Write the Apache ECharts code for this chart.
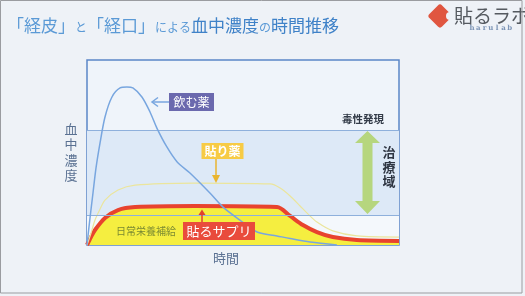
<!DOCTYPE html>
<html>
<head>
<meta charset="utf-8">
<script src="https://cdn.jsdelivr.net/npm/echarts@6/dist/echarts.min.js"></script>
<style>
  html, body { margin: 0; padding: 0; background: #f3f5f8; }
  #chart { width: 525px; height: 296px; }
</style>
</head>
<body>
<div id="chart"></div>
<script>
// 時間 (0-100) と 血中濃度 (0-100) の相対値
const oralDrug = [
    [0, 0], [0.96, 14.6], [1.92, 28.1], [2.88, 41.6], [4.17, 55.1], [5.77, 69.2],
    [8.0, 80.0], [10.6, 84.9], [12.8, 85.4], [14.7, 84.9], [17.6, 80.0], [20.2, 71.9],
    [22.4, 63.2], [25.6, 53.0], [28.9, 44.9], [33.0, 38.9], [39.4, 28.1], [43.6, 20.5],
    [49.0, 13.5], [54.5, 7.0], [60.9, 4.9], [65.1, 3.5], [71.5, 1.6], [80.1, 0]
];
const patchDrug = [
    [0, 0], [1.3, 6.5], [2.56, 13.5], [4.2, 19.5], [5.77, 24.3], [9.94, 29.7],
    [15.4, 32.4], [34.6, 33.5], [58.7, 33.0], [61.9, 30.8], [65.1, 26.5], [68.3, 21.1],
    [70.8, 16.8], [73.7, 12.4], [78.8, 7.6], [86.5, 4.9], [100, 4.3]
];
const patchSupplement = [
    [0, 0], [1.28, 4.3], [2.56, 8.1], [5.77, 14.6], [9.94, 18.9], [15.4, 20.5],
    [34.6, 21.1], [60.9, 20.5], [65.1, 15.7], [69.2, 10.8], [73.7, 7.0], [78.8, 4.3],
    [86.5, 2.7], [100, 2.2]
];
const toxicLevel = 62;
const effectiveLevel = 16;

const JP = '"Noto Sans CJK JP", "Noto Sans", sans-serif';
const chart = echarts.init(document.getElementById('chart'));

const logoLetters = 'harulab'.split('').map((ch, i) => ({
    type: 'text', x: 472 + i * 6.3, y: 28, z: 60,
    style: { text: ch, fill: '#7d95b6', font: 'bold 7px "DejaVu Serif", serif', align: 'center', verticalAlign: 'middle' }
}));

const lineCommon = { smooth: 0.3, symbol: 'none', silent: true };

chart.setOption({
    animation: false,
    backgroundColor: '#eef2f7',
    title: {
        left: 2, top: 12,
        text: '{a|「経皮」}{b|と}{a|「経口」}{b|による}{c|血中濃度}{b|の}{c|時間推移}',
        textStyle: {
            fontWeight: 'normal',
            rich: {
                a: { fontSize: 17, color: '#5b9ad6', fontFamily: JP, fontWeight: 'normal', verticalAlign: 'bottom' },
                b: { fontSize: 12, color: '#5b9ad6', fontFamily: JP, fontWeight: 'normal', verticalAlign: 'bottom', padding: [0, 0, 1, 0] },
                c: { fontSize: 17, color: '#3f82c8', fontFamily: JP, fontWeight: 'normal', verticalAlign: 'bottom' }
            }
        }
    },
    grid: {
        left: 87, top: 60, width: 312, height: 185,
        show: true, backgroundColor: '#eff4fa', borderColor: '#5b86c8', borderWidth: 1.5
    },
    xAxis: { type: 'value', min: 0, max: 100, show: false },
    yAxis: { type: 'value', min: 0, max: 100, show: false },
    series: [
        {
            type: 'line', data: [], z: 1, silent: true,
            markArea: {
                silent: true,
                data: [
                    [{ yAxis: effectiveLevel, itemStyle: { color: '#dde9f7', opacity: 1 } }, { yAxis: toxicLevel }],
                    [{ yAxis: 0, itemStyle: { color: '#f4f8fc', opacity: 1 } }, { yAxis: effectiveLevel }]
                ]
            },
            markLine: {
                silent: true, symbol: 'none', label: { show: false },
                lineStyle: { color: '#8eb0dc', width: 1, type: 'solid' },
                data: [{ yAxis: toxicLevel }, { yAxis: effectiveLevel }]
            }
        },
        Object.assign({
            name: '貼るサプリ', type: 'line', data: patchSupplement, z: 3,
            lineStyle: { color: '#e8432e', width: 4 },
            areaStyle: { color: '#f5ee40', opacity: 1 }
        }, lineCommon),
        Object.assign({
            name: '貼り薬', type: 'line', data: patchDrug, z: 4,
            lineStyle: { color: '#ebe59c', width: 1.2 }
        }, lineCommon),
        Object.assign({
            name: '飲む薬', type: 'line', data: oralDrug, z: 5,
            lineStyle: { color: '#78a6df', width: 1.5 }
        }, lineCommon)
    ],
    graphic: [
        // スライド枠
        { type: 'rect', z: 100, shape: { x: 0.5, y: 0.5, width: 521.5, height: 292.5 },
          style: { fill: 'none', stroke: '#9a9ca0', lineWidth: 1 } },

        // ロゴ
        { type: 'rect', z: 60, x: 440, y: 16, rotation: Math.PI / 4,
          shape: { x: -9, y: -9, width: 18, height: 18, r: 3 },
          style: { fill: '#e05640' } },
        { type: 'circle', z: 61, shape: { cx: 450, cy: 16, r: 4 }, style: { fill: '#eef2f7' } },
        { type: 'text', z: 60, x: 454, y: 16,
          style: { text: '貼るラボ', fill: '#555a60', font: '19px ' + JP, verticalAlign: 'middle' } },
        ...logoLetters,

        // 軸ラベル
        { type: 'text', z: 60, x: 71, y: 128,
          style: { text: '血\n中\n濃\n度', fill: '#5a7192', font: '13px ' + JP,
                   align: 'center', verticalAlign: 'top', lineHeight: 15.5, y: -7 } },
        { type: 'text', z: 60, x: 226, y: 258,
          style: { text: '時間', fill: '#5a7192', font: '13px ' + JP,
                   align: 'center', verticalAlign: 'middle' } },

        // 飲む薬
        { type: 'polyline', z: 60, shape: { points: [[169, 102], [152, 102]] },
          style: { stroke: '#78a6df', lineWidth: 1.5 } },
        { type: 'polyline', z: 60, shape: { points: [[158, 97.5], [152, 102], [158, 106.5]] },
          style: { stroke: '#78a6df', lineWidth: 1.5, fill: 'none' } },
        { type: 'rect', z: 60, shape: { x: 169, y: 93, width: 45, height: 18 },
          style: { fill: '#6b69ae' } },
        { type: 'text', z: 61, x: 191.5, y: 102,
          style: { text: '飲む薬', fill: '#fff', font: '12px ' + JP, align: 'center', verticalAlign: 'middle' } },

        // 貼り薬
        { type: 'rect', z: 60, shape: { x: 201.5, y: 143, width: 42, height: 16 },
          style: { fill: '#f7cb45' } },
        { type: 'text', z: 61, x: 222.5, y: 151,
          style: { text: '貼り薬', fill: '#fff', font: 'bold 12px ' + JP, align: 'center', verticalAlign: 'middle' } },
        { type: 'line', z: 60, shape: { x1: 216, y1: 159, x2: 216, y2: 177 },
          style: { stroke: '#e9b530', lineWidth: 1.5 } },
        { type: 'polygon', z: 60, shape: { points: [[212, 175], [220, 175], [216, 183]] },
          style: { fill: '#e9b530' } },

        // 貼るサプリ
        { type: 'line', z: 60, shape: { x1: 202, y1: 222, x2: 202, y2: 214 },
          style: { stroke: '#e0402e', lineWidth: 1.5 } },
        { type: 'polygon', z: 60, shape: { points: [[198.5, 215], [205.5, 215], [202, 209.5]] },
          style: { fill: '#e0402e' } },
        { type: 'rect', z: 60, shape: { x: 183, y: 222, width: 72, height: 18 },
          style: { fill: '#e94b3c' } },
        { type: 'text', z: 61, x: 219, y: 231,
          style: { text: '貼るサプリ', fill: '#fff', font: '13px ' + JP, align: 'center', verticalAlign: 'middle' } },
        { type: 'text', z: 61, x: 146, y: 231,
          style: { text: '日常栄養補給', fill: '#7a8a32', font: '10px ' + JP, align: 'center', verticalAlign: 'middle' } },

        // 治療域
        { type: 'text', z: 60, x: 363, y: 119,
          style: { text: '毒性発現', fill: '#333b48', font: 'bold 10.5px ' + JP, align: 'center', verticalAlign: 'middle' } },
        { type: 'polygon', z: 60,
          shape: { points: [[367.5, 131], [380, 143], [372.5, 143], [372.5, 201], [380, 201], [367.5, 214],
                            [355, 201], [362.5, 201], [362.5, 143], [355, 143]] },
          style: { fill: '#b6d67e' } },
        { type: 'text', z: 60, x: 389, y: 145,
          style: { text: '治\n療\n域', fill: '#2e3542', font: 'bold 13px ' + JP,
                   align: 'center', verticalAlign: 'top', lineHeight: 14.5 } }
    ]
});

window.onresize = () => chart.resize();
</script>
</body>
</html>
